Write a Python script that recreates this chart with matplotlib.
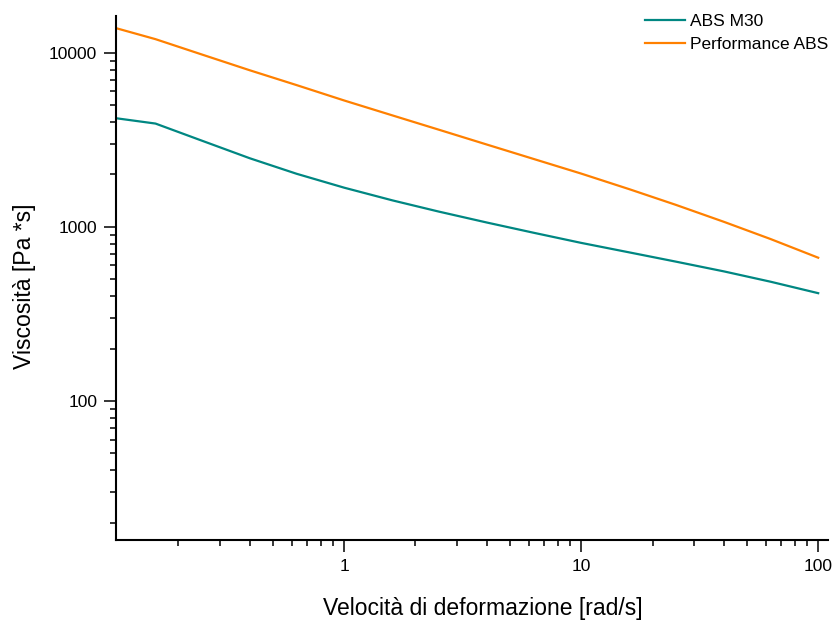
import matplotlib
matplotlib.use("Agg")
import matplotlib.pyplot as plt
from matplotlib.ticker import LogLocator, FixedLocator, FixedFormatter, NullFormatter

plt.rcParams['font.family'] = ['Liberation Sans', 'DejaVu Sans']

# Data
shear_rate = [0.11, 0.16, 0.25, 0.4, 0.63, 1, 1.6, 2.5, 4, 6.3, 10, 16, 25, 40, 63, 100]
abs_m30 = [4200, 3920, 3133, 2477, 2018, 1679, 1419, 1225, 1059, 925, 809, 713, 632, 555, 484, 416]
perf_abs = [13800, 11970, 9790, 7930, 6520, 5320, 4365, 3620, 2970, 2455, 2023, 1644, 1340, 1069, 851, 665]

series_names = ["ABS M30", "Performance ABS"]
x_ticks = [1, 10, 100]
x_ticklabels = ["1", "10", "100"]
y_ticks = [100, 1000, 10000]
y_ticklabels = ["100", "1000", "10000"]

W, H = 834, 623
fig = plt.figure(figsize=(W / 100, H / 100), dpi=100)
ax = fig.add_axes([116 / W, 1 - 540 / H, (828 - 116) / W, (540 - 16) / H])

ax.plot(shear_rate, abs_m30, color="#008782", lw=1.6, label=series_names[0])
ax.plot(shear_rate, perf_abs, color="#FF8000", lw=1.6, label=series_names[1])

ax.set_xscale("log")
ax.set_yscale("log")
ax.set_xlim(0.109, 110)
ax.set_ylim(15.9, 16260)

for s in ["top", "right"]:
    ax.spines[s].set_visible(False)
for s in ["left", "bottom"]:
    ax.spines[s].set_linewidth(1.5)

ax.xaxis.set_major_locator(FixedLocator(x_ticks))
ax.xaxis.set_major_formatter(FixedFormatter(x_ticklabels))
ax.yaxis.set_major_locator(FixedLocator(y_ticks))
ax.yaxis.set_major_formatter(FixedFormatter(y_ticklabels))
ax.xaxis.set_minor_locator(LogLocator(base=10, subs=range(2, 10), numticks=20))
ax.yaxis.set_minor_locator(LogLocator(base=10, subs=range(2, 10), numticks=20))
ax.xaxis.set_minor_formatter(NullFormatter())
ax.yaxis.set_minor_formatter(NullFormatter())

ax.tick_params(which="major", direction="out", length=8.5, width=1.1, labelsize=12.5, pad=5)
ax.tick_params(which="minor", direction="out", length=4.3, width=1.1)

ax.set_xlabel("Velocità di deformazione [rad/s]", fontsize=16.5)
ax.set_ylabel("Viscosità [Pa *s]", fontsize=16.6)
ax.xaxis.set_label_coords((483 - 116) / 712, -(608 - 540) / 524)
ax.yaxis.set_label_coords(-(116 - 25) / 712, (540 - 286) / 524)
ax.xaxis.label.set_va("center")
ax.yaxis.label.set_va("center")

fig.legend(loc="upper left", bbox_to_anchor=(645 / W, 1 - 14 / H), frameon=False,
           fontsize=12.5, handlelength=2.3, handletextpad=0.3, labelspacing=0.42,
           borderaxespad=0, borderpad=0)

fig.savefig("out.png", dpi=100)
